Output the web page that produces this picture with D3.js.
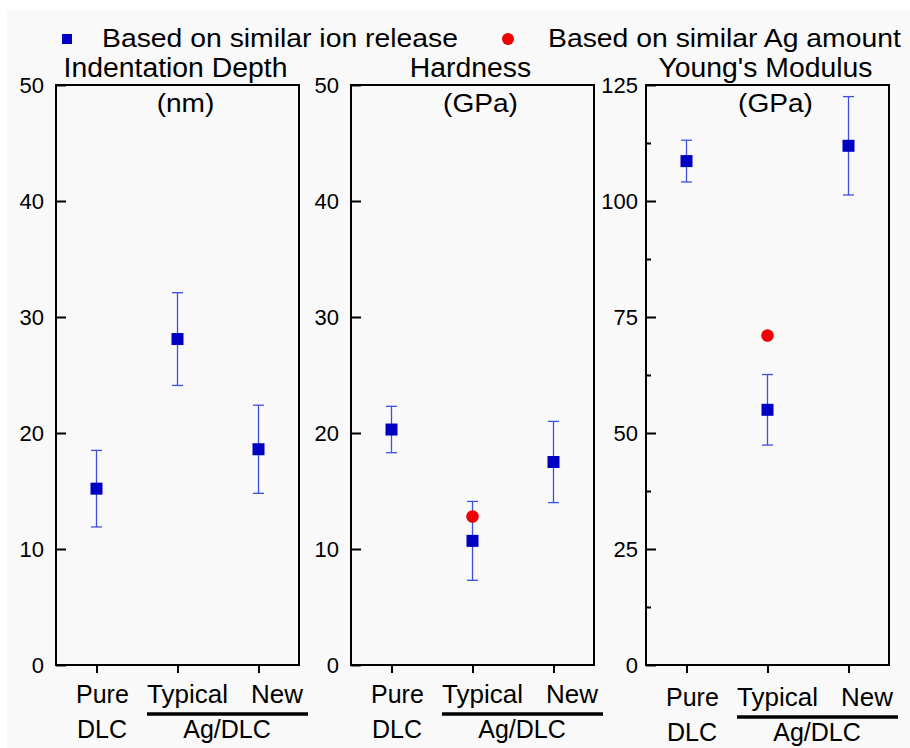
<!DOCTYPE html>
<html>
<head>
<meta charset="utf-8">
<script src="https://cdn.jsdelivr.net/npm/d3@7"></script>
<style>
  html, body { margin: 0; padding: 0; background: #ffffff; }
  svg { display: block; font-family: "Liberation Sans", Arial, sans-serif; }
</style>
</head>
<body>
<svg id="chart" width="910" height="748"></svg>
<script>
// Categories along each x axis
const categories = ["Pure DLC", "Typical Ag/DLC", "New Ag/DLC"];

// Indentation depth (nm): mean and ± error, based on similar ion release
const depthMean = [15.2, 28.1, 18.6];
const depthErr  = [3.3, 4.0, 3.8];

// Hardness (GPa)
const hardnessMean = [20.3, 10.7, 17.5];
const hardnessErr  = [2.0, 3.4, 3.5];
const hardnessAg   = [null, 12.8, null];   // based on similar Ag amount

// Young's modulus (GPa)
const modulusMean = [108.6, 55.0, 111.9];
const modulusErr  = [4.5, 7.6, 10.6];
const modulusAg   = [null, 71.0, null];

// Panel titles, units and axis ticks
const panelTitles = ["Indentation Depth", "Hardness", "Young's Modulus"];
const panelUnits  = ["(nm)", "(GPa)", "(GPa)"];
const depthTicks    = [0, 10, 20, 30, 40, 50];
const hardnessTicks = [0, 10, 20, 30, 40, 50];
const modulusTicks  = [0, 25, 50, 75, 100, 125];
const modulusMinor  = [12.5, 37.5, 62.5, 87.5, 112.5];

const legendLabels = ["Based on similar ion release", "Based on similar Ag amount"];

const panels = [
  { mean: depthMean,    err: depthErr,    ag: null,        ticks: depthTicks,    minor: [],           max: 50 },
  { mean: hardnessMean, err: hardnessErr, ag: hardnessAg,  ticks: hardnessTicks, minor: [],           max: 50 },
  { mean: modulusMean,  err: modulusErr,  ag: modulusAg,   ticks: modulusTicks,  minor: modulusMinor, max: 125 }
];

const svg = d3.select("#chart");
const BLUE = "#0000c4", BAR = "#3c4fe4", RED = "#f00000";

// widen a text element's glyphs horizontally by a factor
function widen(sel, f) {
  sel.each(function () {
    const w = this.getComputedTextLength();
    d3.select(this).attr("textLength", w * f).attr("lengthAdjust", "spacingAndGlyphs");
  });
  return sel;
}

// light grey canvas behind the figure
svg.append("rect").attr("x", 7).attr("y", 10).attr("width", 903).attr("height", 738).attr("fill", "#f9f9f9");

// legend
const lg = svg.append("g");
lg.append("rect").attr("x", 62).attr("y", 34).attr("width", 10).attr("height", 10).attr("fill", BLUE);
widen(lg.append("text").attr("x", 102).attr("y", 47).attr("font-size", 26).text(legendLabels[0]), 1.09);
lg.append("circle").attr("cx", 508).attr("cy", 39).attr("r", 6).attr("fill", RED);
widen(lg.append("text").attr("x", 548).attr("y", 47).attr("font-size", 26).text(legendLabels[1]), 1.09);

const panelLeft = [56, 351, 646];
const pw = 243, plotTop = 85, ph = 580;
const labelPad = [12, 12, 8];
const labelShift = [0, 0, 3];

panels.forEach((p, i) => {
  const g = svg.append("g").attr("transform", `translate(${panelLeft[i]},${plotTop})`);
  const x = d3.scalePoint().domain(categories).range([0, pw]).padding(0.5);
  const y = d3.scaleLinear().domain([0, p.max]).range([ph, 0]);

  // titles
  widen(g.append("text").attr("x", pw / 2 - 2).attr("y", -8).attr("text-anchor", "middle")
    .attr("font-size", 27).text(panelTitles[i]), 1.05);
  widen(g.append("text").attr("x", pw / 2 + 8).attr("y", 27).attr("text-anchor", "middle")
    .attr("font-size", 26).text(panelUnits[i]), 1.08);

  // y axis: inward major ticks with labels, inward minor ticks
  const ya = g.append("g").call(
    d3.axisLeft(y).tickValues(p.ticks).tickSizeInner(-10).tickSizeOuter(0)
      .tickPadding(labelPad[i]).tickFormat(d3.format("d")));
  ya.select(".domain").remove();
  ya.selectAll(".tick line").attr("stroke", "#000").attr("stroke-width", 2);
  ya.selectAll(".tick text").attr("font-size", 22).attr("font-family", "Liberation Sans, Arial, sans-serif").attr("fill", "#000");
  if (p.minor.length) {
    const ym = g.append("g").call(d3.axisLeft(y).tickValues(p.minor).tickSize(-5).tickFormat(""));
    ym.select(".domain").remove();
    ym.selectAll(".tick line").attr("stroke", "#000").attr("stroke-width", 2);
  }

  // x axis ticks pointing outward
  const xa = g.append("g").attr("transform", `translate(0,${ph})`)
    .call(d3.axisBottom(x).tickSize(8).tickFormat(""));
  xa.select(".domain").remove();
  xa.selectAll(".tick line").attr("stroke", "#000").attr("stroke-width", 2);

  // frame
  g.append("rect").attr("width", pw).attr("height", ph)
    .attr("fill", "none").attr("stroke", "#000").attr("stroke-width", 2);

  // category labels
  const s = labelShift[i];
  const lab = g.append("g").attr("font-size", 25);
  lab.append("text").attr("x", 20).attr("y", ph + 38 + s).text("Pure");
  widen(lab.append("text").attr("x", 91).attr("y", ph + 38 + s).text("Typical"), 1.04);
  widen(lab.append("text").attr("x", 195).attr("y", ph + 38 + s).text("New"), 1.04);
  lab.append("text").attr("x", 21).attr("y", ph + 73 + s).text("DLC");
  lab.append("text").attr("x", 171).attr("y", ph + 73 + s).attr("text-anchor", "middle").text("Ag/DLC");
  g.append("line").attr("x1", 91).attr("x2", 252).attr("y1", ph + 49 + s).attr("y2", ph + 49 + s)
    .attr("stroke", "#000").attr("stroke-width", 3.5);

  // error bars
  const rows = categories.map((c, k) => ({ c, m: p.mean[k], e: p.err[k] }));
  const eb = g.append("g").attr("stroke", BAR).attr("stroke-width", 1.3);
  rows.forEach(r => {
    const cx = x(r.c);
    eb.append("line").attr("x1", cx).attr("x2", cx).attr("y1", y(r.m - r.e)).attr("y2", y(r.m + r.e));
    eb.append("line").attr("x1", cx - 5.5).attr("x2", cx + 5.5).attr("y1", y(r.m - r.e)).attr("y2", y(r.m - r.e));
    eb.append("line").attr("x1", cx - 5.5).attr("x2", cx + 5.5).attr("y1", y(r.m + r.e)).attr("y2", y(r.m + r.e));
  });

  // square markers
  g.selectAll("rect.pt").data(rows).join("rect").attr("class", "pt")
    .attr("x", d => x(d.c) - 6).attr("y", d => y(d.m) - 6)
    .attr("width", 12).attr("height", 12).attr("fill", BLUE);

  // circle markers for the similar-Ag-amount sample
  if (p.ag) {
    const ag = categories.map((c, k) => ({ c, v: p.ag[k] })).filter(d => d.v !== null);
    g.selectAll("circle.ag").data(ag).join("circle").attr("class", "ag")
      .attr("cx", d => x(d.c)).attr("cy", d => y(d.v)).attr("r", 6.3).attr("fill", RED);
  }
});
</script>
</body>
</html>
